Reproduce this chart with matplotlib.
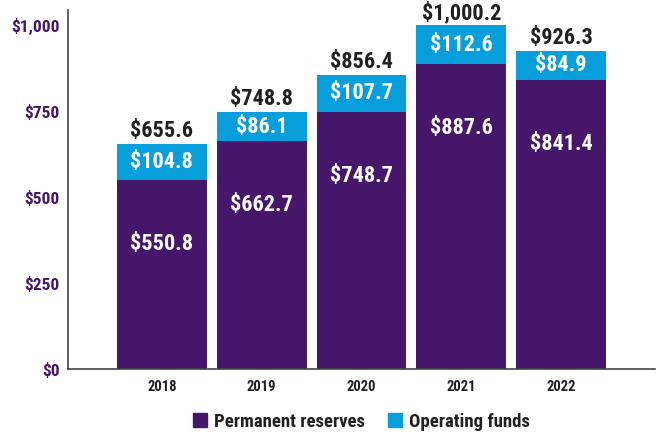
import matplotlib
matplotlib.use("Agg")
import matplotlib.pyplot as plt
from matplotlib.patches import Patch
from matplotlib import font_manager
import numpy as np

years = ["2018", "2019", "2020", "2021", "2022"]
permanent = [550.8, 662.7, 748.7, 887.6, 841.4]
operating = [104.8, 86.1, 107.7, 112.6, 84.9]
totals = [655.6, 748.8, 856.4, 1000.2, 926.3]
yticks = [0, 250, 500, 750, 1000]
ytick_labels = ["$0", "$250", "$500", "$750", "$1,000"]

PURPLE = "#45166a"
BLUE = "#069fdb"
DARK = "#231f20"

names = {f.name for f in font_manager.fontManager.ttflist}
families = []
for n in ["Liberation Sans Narrow", "Roboto Condensed", "Open Sans Condensed", "DejaVu Sans Condensed"]:
    if n in names:
        families.append(n)
families.append("DejaVu Sans")
plt.rcParams['font.family'] = families
plt.rcParams['font.stretch'] = 'condensed'

fig = plt.figure(figsize=(6.56, 4.32), dpi=100)
ax = fig.add_axes([68/656, 1-369/432, (655-68)/656, (369-10)/432])

x = np.arange(len(years))
ax.bar(x, permanent, width=0.9, color=PURPLE, label="Permanent reserves")
ax.bar(x, operating, width=0.9, bottom=permanent, color=BLUE, label="Operating funds")

vfs = 16
for i in range(len(years)):
    ax.annotate(f"${totals[i]:,.1f}", (x[i], permanent[i] + operating[i]),
                xytext=(0, 1), textcoords="offset points", ha="center", va="bottom",
                fontsize=vfs, fontweight="bold", color=DARK)
    ax.text(x[i], permanent[i] + operating[i] / 2, f"${operating[i]:,.1f}",
            ha="center", va="center", fontsize=vfs, fontweight="bold", color="white")
    ax.annotate(f"${permanent[i]:,.1f}", (x[i], permanent[i]),
                xytext=(0, -46), textcoords="offset points", ha="center", va="center",
                fontsize=vfs, fontweight="bold", color="white")

ax.set_xlim(-0.94, 4.94)
ax.set_ylim(0, 1045)
ax.set_yticks(yticks)
ax.set_yticklabels(ytick_labels, fontsize=12.5, fontweight="bold", color=PURPLE)
ax.set_xticks(x)
ax.set_xticklabels(years, fontsize=10.5, fontweight="bold", color=DARK)
ax.tick_params(axis="both", length=0)
ax.tick_params(axis="y", pad=6)
ax.tick_params(axis="x", pad=8)
for s in ["top", "right"]:
    ax.spines[s].set_visible(False)
for s in ["left", "bottom"]:
    ax.spines[s].set_color("#444444")
    ax.spines[s].set_linewidth(1.2)

handles = [Patch(color=PURPLE, label="Permanent reserves"), Patch(color=BLUE, label="Operating funds")]
leg = ax.legend(handles=handles, loc="upper center", bbox_to_anchor=(0.5, -0.085), ncol=2,
                frameon=False, prop={"size": 13.5, "weight": "bold"},
                handlelength=0.75, handleheight=0.75, handletextpad=0.4, columnspacing=1.2,
                borderpad=0.2)
for t in leg.get_texts():
    t.set_color(DARK)

fig.savefig("out.png", dpi=100)
